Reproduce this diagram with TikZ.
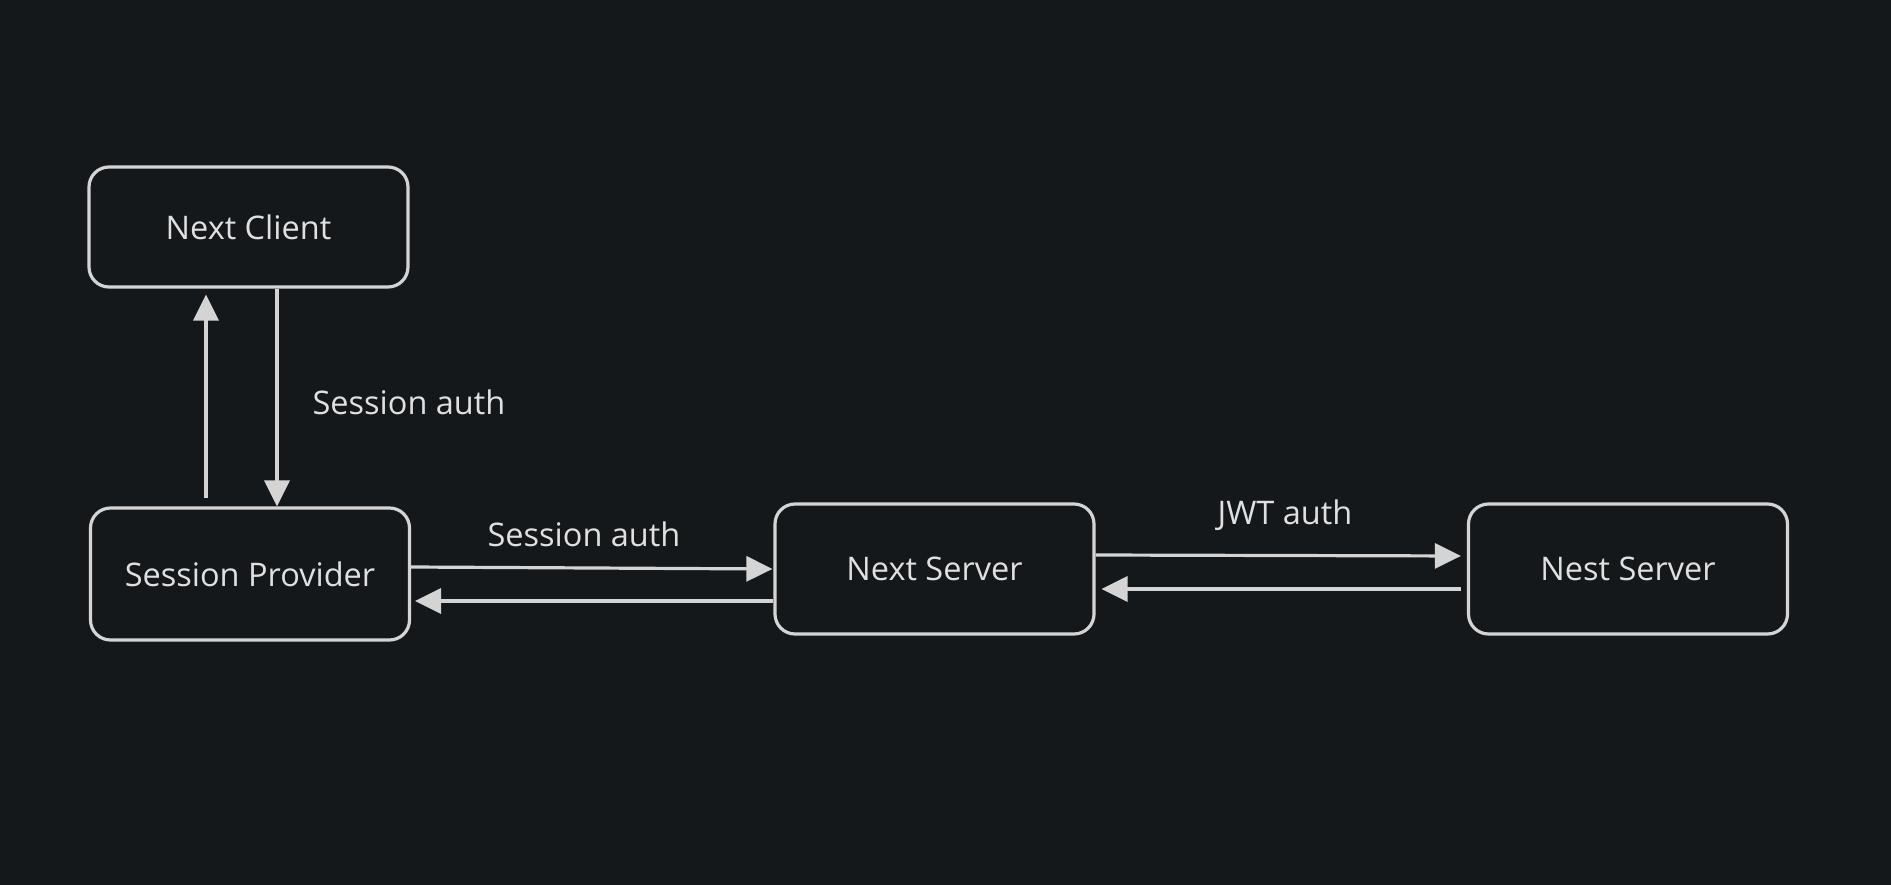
\documentclass[tikz,border=0pt]{standalone}
\usepackage{fontspec}
\setmainfont{Open Sans}
\usetikzlibrary{arrows.meta}
\definecolor{bg}{HTML}{15181B}
\definecolor{ln}{HTML}{D4D4D4}
\definecolor{tx}{HTML}{E0E0E0}
\tikzset{
  box/.style={draw=ln, line width=3.2pt, rounded corners=20pt, minimum width=319pt, minimum height=#1, inner sep=0pt, text=tx, font=\fontsize{32.5}{38}\selectfont},
  box/.default=130pt,
  arr/.style={draw=ln, line width=3.2pt, -{Triangle[length=26pt,width=25pt]}},
  lbl/.style={text=tx, font=\fontsize{32.5}{38}\selectfont, inner sep=0pt}
}
\begin{document}
\begin{tikzpicture}[x=1pt,y=-1pt]
\fill[bg] (0,0) rectangle (1891,885);
\useasboundingbox (0,0) rectangle (1891,885);
\node[box=120pt] (nc) at (248.5,227) {Next Client};
\node[box=132pt] (sp) at (250,574) {Session Provider};
\node[box=130pt] (nxs) at (934.5,569) {Next Server};
\node[box=130pt] (nes) at (1628,569) {Nest Server};
% vertical pair
\draw[arr, shorten <=8pt, shorten >=6pt] ([xshift=-44pt]sp.north) -- ([xshift=-42.5pt]nc.south);
\draw[arr] ([xshift=28.5pt]nc.south) -- ([xshift=27pt]sp.north);
\node[lbl] (l1) at (409,402) {Session auth};
% SP <-> Next Server
\draw[arr, shorten >=1pt] ([yshift=7pt]sp.east) -- (nxs.west);
\draw[arr, shorten >=4pt] ([yshift=-32pt]nxs.west) -- ([yshift=-27pt]sp.east);
\node[lbl] (l2) at (584,534) {Session auth};
% Next Server <-> Nest Server
\draw[arr, shorten >=6pt] ([yshift=14pt]nxs.east) -- ([yshift=13pt]nes.west);
\draw[arr, shorten <=6pt, shorten >=6pt] ([yshift=-20pt]nes.west) -- ([yshift=-20pt]nxs.east);
\node[lbl] (l3) at (1285,515) {JWT auth};
\end{tikzpicture}
\end{document}
